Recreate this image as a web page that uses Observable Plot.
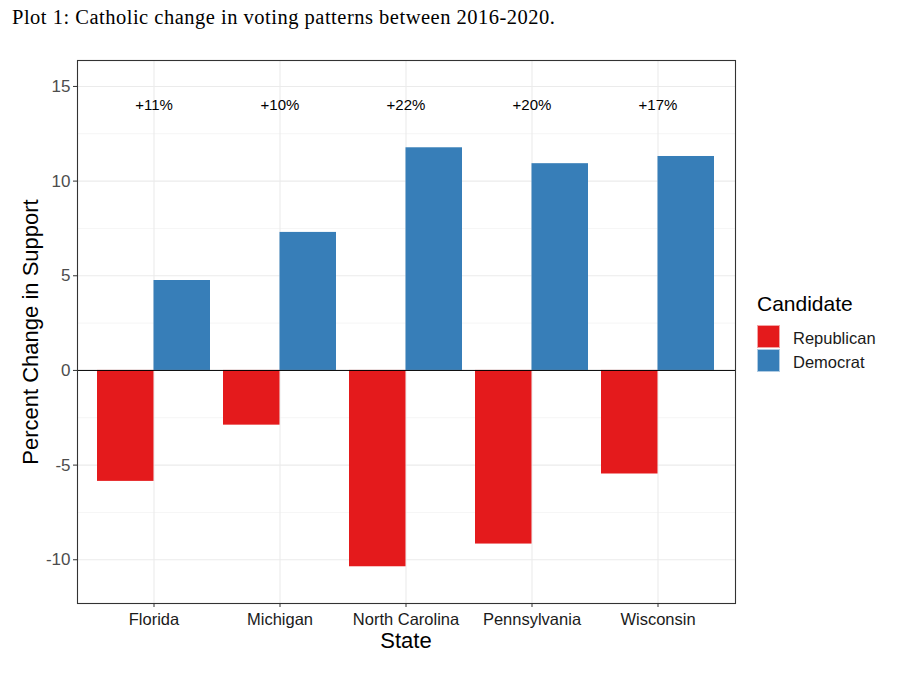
<!DOCTYPE html>
<html>
<head>
<meta charset="utf-8">
<script src="https://cdn.jsdelivr.net/npm/d3@7"></script>
<script src="https://cdn.jsdelivr.net/npm/@observablehq/plot@0.6"></script>
<style>
  body { margin: 0; background: #fff; width: 900px; height: 675px; position: relative; overflow: hidden;
         font-family: "Liberation Sans", Arial, sans-serif; }
  #title { position: absolute; left: 12px; top: 6px; font-family: "Liberation Serif", "DejaVu Serif", serif;
           font-size: 20.5px; letter-spacing: 0.5px; color: #000; white-space: nowrap; }
  #chart { position: absolute; left: 0; top: 40px; }
  #ylabel { position: absolute; left: 31px; top: 332px; transform: translate(-50%, -50%) rotate(-90deg);
            font-size: 22px; color: #000; white-space: nowrap; }
  #xlabel { position: absolute; left: 406px; top: 641px; transform: translate(-50%, -50%);
            font-size: 22px; color: #000; white-space: nowrap; }
  #legend { position: absolute; left: 757px; top: 292px; }
  #legend .lt { font-size: 21px; color: #000; margin-bottom: 8px; }
  #legend .row { display: flex; align-items: center; height: 24px; }
  #legend .sw { width: 23px; height: 23px; box-sizing: border-box; border: 1px solid rgba(255,255,255,0.6); margin-right: 13px; }
  #legend .lab { font-size: 16.5px; color: #1a1a1a; position: relative; top: 2px; }
  #chart svg g[aria-label="y-axis tick"] path, #chart svg g[aria-label="x-axis tick"] path { stroke: #333; }
  #chart svg g[aria-label="y-axis tick label"] { fill: #4d4d4d; font-size: 17px; }
  #chart svg g[aria-label="x-axis tick label"] { fill: #1a1a1a; font-size: 16.5px; }
</style>
</head>
<body>
<div id="title">Plot 1: Catholic change in voting patterns between 2016-2020.</div>
<div id="chart"></div>
<div id="ylabel">Percent Change in Support</div>
<div id="xlabel">State</div>
<div id="legend"></div>
<script>
const states = ["Florida", "Michigan", "North Carolina", "Pennsylvania", "Wisconsin"];
const republican = [-5.86, -2.89, -10.37, -9.17, -5.47];
const democrat = [4.75, 7.29, 11.76, 10.92, 11.30];
const netLabels = ["+11%", "+10%", "+22%", "+20%", "+17%"];
const labelValue = 14;
const candidates = ["Republican", "Democrat"];
const candidateColors = ["#E41A1C", "#377EB8"];
const yTicks = [-10, -5, 0, 5, 10, 15];
const yMinor = [-7.5, -2.5, 2.5, 7.5, 12.5];
const yDomain = [-12.31, 16.37];

const rows = [];
states.forEach((s, i) => {
  rows.push({state: s, candidate: "Republican", value: republican[i]});
  rows.push({state: s, candidate: "Democrat", value: democrat[i]});
});
const labelRows = states.map((s, i) => ({state: s, label: netLabels[i], y: labelValue}));

function build(half) {
  return Plot.plot({
    width: 900,
    height: 635,
    marginLeft: 77,
    marginRight: 165,
    marginTop: 20,
    marginBottom: 72,
    style: {fontFamily: '"Liberation Sans", Arial, sans-serif', background: "transparent", overflow: "visible"},
    x: {type: "band", domain: states, paddingInner: 0.1, paddingOuter: 0.15, label: null, tickSize: 4, tickPadding: 6},
    y: {domain: yDomain, ticks: yTicks, tickFormat: d => String(d), label: null, tickSize: 4, tickPadding: 3},
    color: {domain: candidates, range: candidateColors},
    marks: [
      Plot.ruleY(yMinor, {stroke: "#f2f2f2", strokeWidth: 0.8}),
      Plot.ruleY(yTicks, {stroke: "#ebebeb", strokeWidth: 1.1}),
      Plot.ruleX(states, {x: d => d, stroke: "#ebebeb", strokeWidth: 1.1}),
      Plot.barY(rows.filter(d => d.candidate === "Republican"), {x: "state", y: "value", fill: "candidate", insetLeft: 0, insetRight: half}),
      Plot.barY(rows.filter(d => d.candidate === "Democrat"), {x: "state", y: "value", fill: "candidate", insetLeft: half, insetRight: 0}),
      Plot.ruleY([0], {stroke: "#000", strokeWidth: 1}),
      Plot.text(labelRows, {x: "state", y: "y", text: "label", fontSize: 15, fill: "#000"}),
      Plot.frame({stroke: "#333", strokeWidth: 1.1})
    ]
  });
}

let plot = build(0);
const bw = plot.scale("x").bandwidth;
plot = build(bw / 2);
document.getElementById("chart").appendChild(plot);

const legend = document.getElementById("legend");
const lt = document.createElement("div");
lt.className = "lt";
lt.textContent = "Candidate";
legend.appendChild(lt);
candidates.forEach((c, i) => {
  const row = document.createElement("div");
  row.className = "row";
  const sw = document.createElement("div");
  sw.className = "sw";
  sw.style.background = candidateColors[i];
  const lab = document.createElement("span");
  lab.className = "lab";
  lab.textContent = c;
  row.appendChild(sw);
  row.appendChild(lab);
  legend.appendChild(row);
});
</script>
</body>
</html>
